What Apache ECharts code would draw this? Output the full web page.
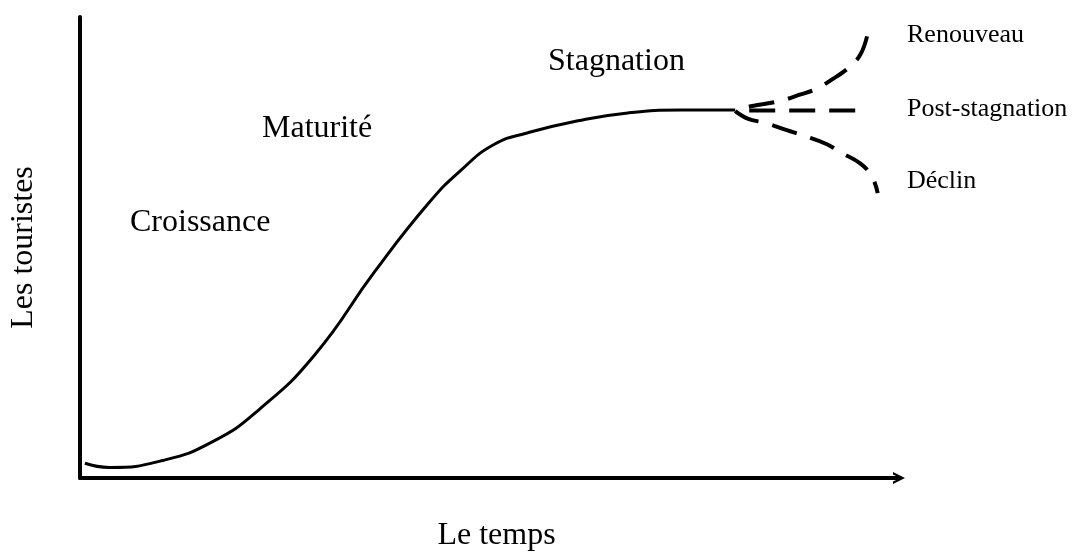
<!DOCTYPE html>
<html>
<head>
<meta charset="utf-8">
<script src="https://cdn.jsdelivr.net/npm/echarts@6/dist/echarts.min.js"></script>
<style>
  html, body { margin: 0; padding: 0; background: #fff; }
  #chart { width: 1073px; height: 557px; }
</style>
</head>
<body>
<div id="chart"></div>
<script>
// cycle de vie d'une destination (Butler), échelle 0..100
const timeMain = [0.6, 3.6, 10.1, 16.2, 21.9, 28.7, 36.0, 42.6, 46.6, 50.6, 54.7, 60.8, 66.9, 73.4, 80.0];
const touristsMain = [3.2, 2.3, 3.8, 7.9, 14.9, 26.8, 44.8, 59.7, 66.9, 72.4, 74.9, 77.5, 79.2, 79.8, 79.8];

const timeRenouveau = [80.0, 82.1, 85.3, 88.0, 90.0, 91.6, 94.0, 95.3, 96.1];
const touristsRenouveau = [79.8, 80.7, 81.7, 83.2, 84.5, 86.2, 89.2, 91.9, 95.8];

const timePost = [80.0, 95.6];
const touristsPost = [79.7, 79.7];

const timeDeclin = [80.0, 81.6, 83.5, 86.4, 88.3, 91.2, 92.8, 95.3, 96.7, 97.4];
const touristsDeclin = [79.6, 77.9, 77.1, 75.4, 74.3, 72.4, 70.7, 68.2, 65.4, 61.8];

const phaseLabels = ['Croissance', 'Maturité', 'Stagnation'];
const branchLabels = ['Renouveau', 'Post-stagnation', 'Déclin'];

const pairs = (xs, ys) => xs.map((x, i) => [x, ys[i]]);

const chart = echarts.init(document.getElementById('chart'));

const serif = '"Liberation Serif", "Times New Roman", serif';
const dashed = (offset) => ({
  color: '#000',
  width: 4,
  type: [26, 14],
  dashOffset: offset
});

const option = {
  animation: false,
  backgroundColor: '#fff',
  grid: { left: 77, right: 174, top: 17, bottom: 69 },
  xAxis: {
    type: 'value',
    min: 0,
    max: 100,
    name: 'Le temps',
    nameLocation: 'middle',
    nameGap: 42,
    nameTextStyle: { fontFamily: serif, fontSize: 32, color: '#000', padding: [0, 0, 0, 14] },
    axisLine: {
      lineStyle: { color: '#000', width: 4 },
      symbol: ['none', 'path://M0,10 L5,0 L10,10 L8,10 L5,4 L2,10 Z'],
      symbolSize: [16, 12]
    },
    axisTick: { show: false },
    axisLabel: { show: false },
    splitLine: { show: false }
  },
  yAxis: {
    type: 'value',
    min: 0,
    max: 100,
    name: 'Les touristes',
    nameLocation: 'middle',
    nameGap: 40,
    nameTextStyle: { fontFamily: serif, fontSize: 32, color: '#000' },
    axisLine: { show: true, lineStyle: { color: '#000', width: 4 } },
    axisTick: { show: false },
    axisLabel: { show: false },
    splitLine: { show: false }
  },
  series: [
    {
      type: 'line',
      data: pairs(timeMain, touristsMain),
      smooth: 0.5,
      showSymbol: false,
      lineStyle: { color: '#000', width: 3 }
    },
    {
      name: branchLabels[0],
      type: 'line',
      data: pairs(timeRenouveau, touristsRenouveau),
      smooth: 0.4,
      showSymbol: false,
      lineStyle: dashed(26)
    },
    {
      name: branchLabels[1],
      type: 'line',
      data: pairs(timePost, touristsPost),
      showSymbol: false,
      lineStyle: dashed(26)
    },
    {
      name: branchLabels[2],
      type: 'line',
      data: pairs(timeDeclin, touristsDeclin),
      smooth: 0.4,
      showSymbol: false,
      lineStyle: dashed(0)
    }
  ],
  graphic: [
    { type: 'text', x: 130, y: 223, style: { text: phaseLabels[0], font: '32px ' + serif, fill: '#000', verticalAlign: 'middle' } },
    { type: 'text', x: 262, y: 129, style: { text: phaseLabels[1], font: '32px ' + serif, fill: '#000', verticalAlign: 'middle' } },
    { type: 'text', x: 548, y: 62, style: { text: phaseLabels[2], font: '32px ' + serif, fill: '#000', verticalAlign: 'middle' } },
    { type: 'text', x: 907, y: 35, style: { text: branchLabels[0], font: '26px ' + serif, fill: '#000', verticalAlign: 'middle' } },
    { type: 'text', x: 907, y: 109, style: { text: branchLabels[1], font: '26px ' + serif, fill: '#000', verticalAlign: 'middle' } },
    { type: 'text', x: 907, y: 181, style: { text: branchLabels[2], font: '26px ' + serif, fill: '#000', verticalAlign: 'middle' } }
  ]
};

chart.setOption(option);
window.addEventListener('resize', () => chart.resize());
</script>
</body>
</html>
